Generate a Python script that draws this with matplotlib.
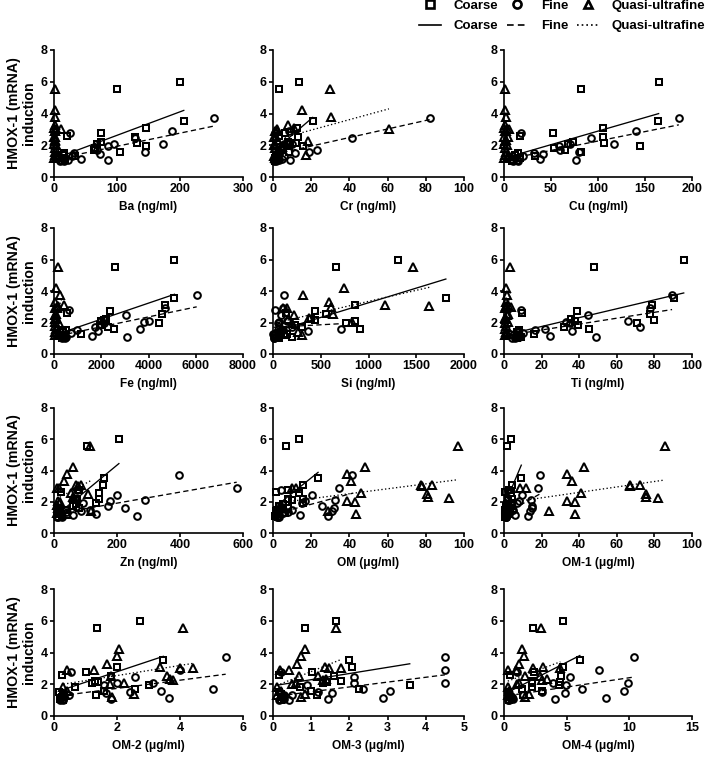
import numpy as np
import matplotlib
matplotlib.use("Agg")
import matplotlib.pyplot as plt
from matplotlib.lines import Line2D

plt.rcParams['font.family'] = ['Liberation Sans', 'DejaVu Sans']
plt.rcParams['font.weight'] = 'bold'
plt.rcParams['axes.labelweight'] = 'bold'

# HMOX-1 induction of each sample (same samples in every panel)
coarse_y = [6.0, 5.55, 3.55, 3.1, 2.75, 2.6, 2.55, 2.2, 2.15, 2.1,
            1.95, 1.85, 1.7, 1.6, 1.5, 1.4, 1.3, 1.2, 1.1, 1.0]
fine_y = [3.73, 2.9, 2.78, 2.45, 2.1, 2.05, 1.95, 1.7, 1.6, 1.5,
          1.43, 1.15, 1.1, 1.3, 1.2, 1.0, 1.05, 1.25, 1.35, 1.0]
quasi_y = [5.55, 4.2, 3.75, 3.3, 3.1, 3.05, 3.0, 2.9, 2.9, 2.55,
           2.5, 2.3, 2.25, 2.05, 2.0, 1.8, 1.6, 1.4, 1.2, 1.3]

# concentration of each sample, per component
ba_coarse = [200, 100, 206, 146, 74, 21, 129, 74, 132, 68, 146, 65, 63, 104, 16, 14, 34, 16, 18, 12]
ba_fine = [254, 187, 26, 128, 173, 95, 86, 68, 145, 32, 73, 43, 85, 8, 18, 10, 22, 4, 28, 16]
ba_quasi = [1, 1, 2, 1, 0.5, 10.5, 3, 1, 2, 1, 0.5, 2, 1, 0.5, 3, 1, 2, 1, 0.5, 4]

cr_coarse = [13.8, 3.0, 20.8, 12.6, 6.5, 3.0, 13, 7.9, 12.2, 9, 15.6, 5, 4, 8.5, 3, 2, 1.5, 1, 2.5, 1]
cr_fine = [82, 8.2, 1, 41.4, 10, 6, 5, 23, 18.7, 11.7, 3, 4.7, 9, 2, 1, 1.5, 3, 1, 6, 0.5]
cr_quasi = [30, 15.2, 30.4, 7.9, 10.8, 60.7, 2.1, 1, 2, 1.5, 0.5, 2, 18.2, 1, 0.5, 1, 2, 17.5, 1, 0.5]

cu_coarse = [164.5, 82, 164, 105, 52, 17, 105, 73, 106, 68, 145, 53, 64.5, 82, 15, 12, 33, 17, 10, 8]
cu_fine = [186, 140, 18.5, 93, 117, 70, 58.5, 60, 80, 31.5, 41, 38, 77, 8, 12, 10, 14, 5, 20, 15]
cu_quasi = [1, 1, 2, 1, 0.5, 3, 5, 1, 2, 4, 0.5, 2, 1, 0.5, 3, 1, 2, 1, 0.5, 4]

fe_coarse = [5100, 2590, 5070, 4710, 2370, 550, 4560, 2220, 2100, 2000, 4440, 1930, 2300, 2560, 520, 400, 1160, 450, 440, 350]
fe_fine = [6040, 4710, 640, 3040, 4000, 3800, 2100, 1750, 3630, 960, 1850, 1600, 3110, 400, 300, 350, 500, 200, 700, 450]
fe_quasi = [180, 74, 270, 60, 410, 150, 120, 50, 120, 70, 30, 100, 40, 30, 200, 50, 80, 40, 30, 150]

si_coarse = [1310, 662, 1810, 862, 441, 138, 552, 397, 441, 855, 760, 231, 300, 914, 100, 80, 150, 120, 197, 60]
si_fine = [120, 103, 17, 86, 145, 60, 50, 200, 707, 100, 362, 60, 30, 20, 10, 15, 25, 5, 70, 8]
si_quasi = [1465, 741, 310, 586, 1172, 1638, 603, 100, 150, 628, 224, 380, 155, 828, 200, 60, 90, 259, 300, 40]

ti_coarse = [95.6, 47.7, 90.2, 78.7, 39, 9.6, 77.5, 35.8, 79.6, 38, 70.9, 39.4, 31.9, 45.2, 8, 7, 15.8, 8, 9, 7]
ti_fine = [89.4, 77.5, 9.2, 44.7, 66, 32.8, 35, 72.2, 22, 16.3, 36.4, 24.6, 49, 7, 5, 6, 8, 3, 10, 4]
ti_quasi = [3, 1.2, 1.5, 1, 2, 1, 3.5, 0.5, 1, 2, 1.5, 0.5, 1, 2, 0.3, 1, 0.5, 1, 0.3, 1.5]

zn_coarse = [206, 105, 158, 156, 78, 21.5, 142, 73, 142, 70, 132, 70, 60, 80, 37.6, 15, 16, 20, 25, 12]
zn_fine = [398, 580, 73, 199, 290, 177, 91, 170, 226, 113, 86, 61, 263, 20, 132, 10, 25, 8, 40, 12]
zn_quasi = [113, 59, 40, 32, 70, 86, 75, 16, 10, 54, 108, 59, 65, 12, 20, 8, 12, 118, 40, 10]

om_coarse = [13.4, 6.6, 23.6, 15.7, 7.7, 1.4, 13.4, 8, 15.7, 9.8, 15.7, 5, 3, 8, 2, 1.5, 6.5, 2, 1, 2.5]
om_fine = [41.6, 34.3, 4.1, 20.5, 32.7, 17, 15, 25.9, 32, 10, 30.9, 14.3, 28.6, 5, 3, 2, 2.5, 1.5, 8, 3]
om_quasi = [97, 48.2, 38.8, 41, 77.7, 83.4, 78, 9.8, 12, 46, 80.7, 81.3, 92, 39, 43, 4, 6, 29, 43.2, 3]

om1_coarse = [3.5, 1.8, 9.2, 4.3, 2.5, 0.5, 3.5, 2, 4, 2, 4, 1.5, 1, 2, 0.3, 0.3, 1.5, 0.5, 0.3, 0.5]
om1_fine = [19, 18, 2, 9.8, 14.5, 8, 7, 14.9, 15, 5, 14, 6, 13, 2, 1.5, 1, 1, 0.5, 3, 1]
om1_quasi = [85.5, 42.6, 33.5, 36.2, 66.8, 72.2, 66.8, 8.3, 11.9, 40.8, 75.4, 75.4, 82, 33.5, 37.8, 3, 5, 23.8, 37.8, 2]

om2_coarse = [2.74, 1.37, 3.47, 2.0, 1.0, 0.26, 1.81, 1.29, 1.4, 1.2, 3.0, 0.68, 2.58, 1.6, 0.16, 0.3, 1.32, 0.25, 0.2, 0.3]
om2_fine = [5.45, 4.0, 0.53, 2.58, 3.14, 2.0, 1.58, 5.05, 3.4, 2.4, 1.65, 3.66, 1.81, 0.3, 0.25, 0.2, 0.3, 0.25, 0.47, 0.3]
om2_quasi = [4.08, 2.05, 2.0, 1.68, 3.37, 4.0, 4.42, 0.42, 1.26, 1.8, 3.58, 3.68, 3.79, 2.21, 1.79, 0.3, 0.4, 2.53, 1.84, 0.35]

om3_coarse = [1.65, 0.84, 1.99, 2.06, 1.02, 0.17, 1.59, 1.79, 1.41, 1.3, 3.58, 0.71, 2.26, 0.99, 0.15, 0.2, 1.14, 0.25, 0.3, 0.2]
om3_fine = [4.5, 4.5, 0.2, 2.12, 4.49, 2.12, 0.9, 2.36, 3.07, 1.17, 1.55, 2.89, 1.44, 0.3, 0.2, 0.42, 0.3, 0.2, 0.5, 0.15]
om3_quasi = [1.64, 0.84, 0.73, 0.64, 1.35, 1.46, 1.77, 0.42, 0.18, 0.68, 1.17, 1.39, 1.3, 0.59, 0.5, 0.1, 0.2, 0.84, 0.73, 0.1]

om4_coarse = [4.67, 2.32, 6.05, 4.67, 2.4, 0.48, 4.53, 2.27, 4.48, 2.27, 4.4, 2.27, 1.41, 3.07, 0.3, 0.4, 1.5, 0.5, 0.6, 0.4]
om4_fine = [10.4, 7.6, 1.0, 5.25, 9.87, 3.87, 4.93, 6.19, 9.6, 3.07, 4.88, 8.13, 4.08, 0.5, 0.6, 0.4, 0.7, 0.5, 1.55, 0.3]
om4_quasi = [2.93, 1.47, 1.6, 1.2, 3.15, 2.35, 4.5, 0.35, 0.93, 1.65, 2.85, 3.41, 3.0, 1.2, 1.0, 0.3, 0.4, 2.0, 1.68, 0.3]

x_labels = ['Ba (ng/ml)', 'Cr (ng/ml)', 'Cu (ng/ml)', 'Fe (ng/ml)', 'Si (ng/ml)', 'Ti (ng/ml)',
            'Zn (ng/ml)', 'OM (\u03bcg/ml)', 'OM-1 (\u03bcg/ml)', 'OM-2 (\u03bcg/ml)',
            'OM-3 (\u03bcg/ml)', 'OM-4 (\u03bcg/ml)']
x_ticks = [[0, 100, 200, 300], [0, 20, 40, 60, 80, 100], [0, 50, 100, 150, 200],
           [0, 2000, 4000, 6000, 8000], [0, 500, 1000, 1500, 2000], [0, 20, 40, 60, 80, 100],
           [0, 200, 400, 600], [0, 20, 40, 60, 80, 100], [0, 20, 40, 60, 80, 100],
           [0, 2, 4, 6], [0, 1, 2, 3, 4, 5], [0, 5, 10, 15]]
y_ticks = [0, 2, 4, 6, 8]
series_names = ['Coarse', 'Fine', 'Quasi-ultrafine']

panel_data = [
    (ba_coarse, ba_fine, ba_quasi), (cr_coarse, cr_fine, cr_quasi), (cu_coarse, cu_fine, cu_quasi),
    (fe_coarse, fe_fine, fe_quasi), (si_coarse, si_fine, si_quasi), (ti_coarse, ti_fine, ti_quasi),
    (zn_coarse, zn_fine, zn_quasi), (om_coarse, om_fine, om_quasi), (om1_coarse, om1_fine, om1_quasi),
    (om2_coarse, om2_fine, om2_quasi), (om3_coarse, om3_fine, om3_quasi), (om4_coarse, om4_fine, om4_quasi),
]
y_sets = [coarse_y, fine_y, quasi_y]

markers = ['s', 'o', '^']
msizes = [4.6, 4.8, 5.2]
styles = ['-', (0, (4, 2.5)), (0, (1, 1.8))]

W, H = 708, 758
fig = plt.figure(figsize=(W / 100, H / 100), dpi=100)

col_left = [54, 273, 504]
col_right = [243, 464, 692]
row_top = [50, 228, 408, 589]
row_bot = [177, 354, 533, 716]

for k in range(12):
    r, c = divmod(k, 3)
    ax = fig.add_axes([col_left[c] / W, 1 - row_bot[r] / H,
                       (col_right[c] - col_left[c]) / W, (row_bot[r] - row_top[r]) / H])
    for j in range(3):
        xs = np.array(panel_data[k][j], dtype=float)
        ys = np.array(y_sets[j], dtype=float)
        ax.plot(xs, ys, ls='none', marker=markers[j], ms=msizes[j],
                mfc='none', mec='black', mew=1.45, clip_on=False, zorder=3)
    # least squares line over the range of each fraction
    for j in range(3):
        xs = np.array(panel_data[k][j], dtype=float)
        ys = np.array(y_sets[j], dtype=float)
        slope, icpt = np.polyfit(xs, ys, 1)
        xl = np.array([xs.min(), xs.max()])
        ax.plot(xl, slope * xl + icpt, color='black', ls=styles[j], lw=0.95, zorder=4)

    ax.set_xlim(0, x_ticks[k][-1])
    ax.set_ylim(0, 8)
    ax.set_xticks(x_ticks[k])
    ax.set_yticks(y_ticks)
    for s in ['top', 'right']:
        ax.spines[s].set_visible(False)
    for s in ['left', 'bottom']:
        ax.spines[s].set_linewidth(1.2)
    ax.tick_params(width=1.2, length=3, labelsize=9, pad=1.5)
    for t in ax.get_xticklabels() + ax.get_yticklabels():
        t.set_fontweight('bold')
    ax.set_xlabel(x_labels[k], fontsize=8.6, fontweight='bold', labelpad=4)
    if c == 0:
        ax.set_ylabel('HMOX-1 (mRNA)\ninduction', fontsize=10.2, fontweight='bold',
                      labelpad=3, linespacing=1.1)

handles = []
for j in range(3):
    handles.append(Line2D([], [], ls='none', marker=markers[j], ms=5.8, mfc='none',
                          mec='black', mew=1.9))
    handles.append(Line2D([], [], color='black', ls=styles[j], lw=1.2))
labels = []
for n in series_names:
    labels += [n, n]
fig.legend(handles, labels, ncol=3, loc='upper right', bbox_to_anchor=(1.0, 1.004),
           frameon=False, prop={'weight': 'bold', 'size': 9.5}, handlelength=1.65,
           handletextpad=1.0, columnspacing=0.6, labelspacing=0.62, borderpad=0.2,
           borderaxespad=0.0)

fig.savefig('out.png', dpi=100)
